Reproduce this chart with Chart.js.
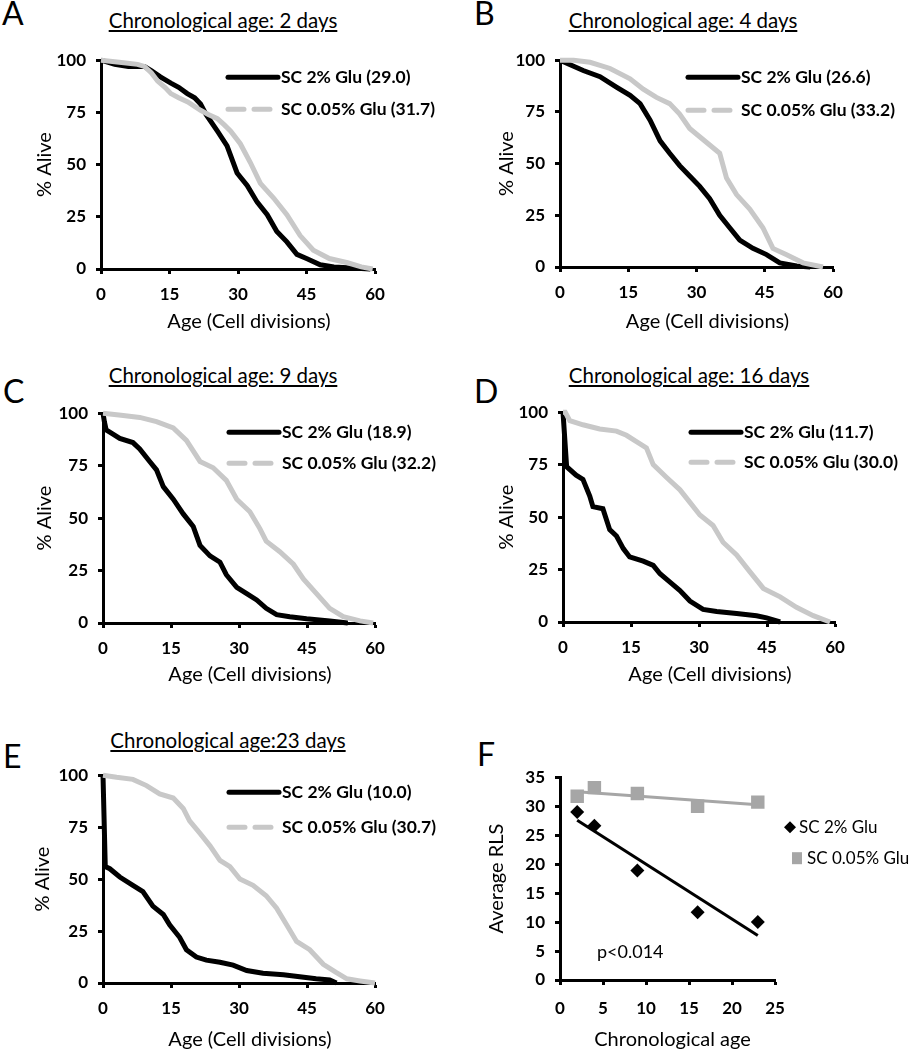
<!DOCTYPE html>
<html>
<head>
<meta charset="utf-8">
<script src="https://cdn.jsdelivr.net/npm/chart.js@4.4.1/dist/chart.umd.min.js"></script>
<style>
  body { margin: 0; background: #fff; }
  #page { position: relative; width: 909px; height: 1050px; overflow: hidden; font-family: Lato, sans-serif; color: #000; }
  canvas { position: absolute; }
  .letter { position: absolute; font-size: 32px; line-height: 32px; }
  .title { position: absolute; font-size: 20.5px; line-height: 24px; text-decoration: underline; white-space: nowrap; transform: translate(-50%, -50%); }
</style>
</head>
<body>
<div id="page">
  <div class="letter" style="left:2px;top:-3px">A</div>
  <div class="letter" style="left:474px;top:-3px">B</div>
  <div class="letter" style="left:3px;top:375px">C</div>
  <div class="letter" style="left:474px;top:375px">D</div>
  <div class="letter" style="left:3px;top:740px">E</div>
  <div class="letter" style="left:477px;top:738px">F</div>

  <div class="title" style="left:223px;top:20px">Chronological age: 2 days</div>
  <div class="title" style="left:683px;top:20px">Chronological age: 4 days</div>
  <div class="title" style="left:223px;top:375px">Chronological age: 9 days</div>
  <div class="title" style="left:689px;top:375px">Chronological age: 16 days</div>
  <div class="title" style="left:228px;top:740px">Chronological age:23 days</div>

  <canvas id="chartA"></canvas>
  <canvas id="chartB"></canvas>
  <canvas id="chartC"></canvas>
  <canvas id="chartD"></canvas>
  <canvas id="chartE"></canvas>
  <canvas id="chartF"></canvas>
</div>
<script>
// Summary data (panel F) - mean replicative lifespan per chronological age
const chronoAge = [2, 4, 9, 16, 23];
const rls2 = [29.0, 26.6, 18.9, 11.7, 10.0];
const rls005 = [31.7, 33.2, 32.2, 30.0, 30.7];

// Survival curves (age in cell divisions, % alive)
const ageA2 = [0, 3, 6, 9.5, 11, 13, 15.3, 17, 18.9, 20.5, 21.8, 23, 25.5, 27.6, 29.8, 32, 34.2, 36.4, 38.5, 40.7, 42.9, 45, 48, 51, 55, 59];
const aliveA2 = [100, 98, 97, 97, 95, 92, 89, 87, 84, 82, 79, 74, 66, 59, 46, 40, 32, 26, 18, 13, 7, 5, 2, 1, 0.5, 0];
const ageA005 = [0, 4, 8, 9.5, 11, 12.4, 14, 15.3, 17, 19, 21.8, 23.5, 25.5, 27, 28.4, 30.5, 32.7, 34.9, 37.8, 40.7, 43.6, 46.5, 50, 54, 57, 59.5];
const aliveA005 = [100, 99, 98, 97, 94, 90, 87, 84, 82, 80, 76, 74, 72, 69, 66, 60, 51, 41, 34, 26, 16, 9, 5, 3, 1, 0];

const ageB2 = [0, 2, 5.1, 8.8, 12.4, 15.4, 17.6, 19.8, 22, 24.1, 26.3, 28.5, 30.7, 32.9, 35.1, 37.3, 39.5, 42.4, 45.4, 48.3, 52, 55];
const aliveB2 = [100, 98, 95, 92, 87, 83, 79, 71, 61, 55, 49, 44, 39, 33, 25, 19, 13, 9, 6, 2, 0.5, 0];
const ageB005 = [0, 3, 6.6, 11, 15.4, 18.3, 21.2, 24.1, 26.3, 28.5, 30.7, 32.9, 35.1, 36.6, 38.8, 41.7, 44.6, 46.8, 49.7, 53.4, 57.8];
const aliveB005 = [100, 100, 99, 96, 91, 86, 82, 79, 74, 67, 63, 59, 55, 43, 35, 28, 19, 9, 6, 2, 0];

const ageC2 = [0, 0.3, 0.7, 2.2, 3.7, 6.6, 8.1, 10.3, 11.8, 13.3, 15.5, 17.7, 19.9, 21.4, 23.6, 25.8, 27.2, 29.5, 31.7, 33.9, 36, 38.3, 41.2, 44.9, 50, 54];
const aliveC2 = [100, 96, 92, 90, 88, 86, 83, 77, 73, 65, 59, 52, 46, 37, 32, 29, 23, 17, 14, 11, 7, 4, 3, 2, 1, 0];
const ageC005 = [0, 4, 8.1, 11.8, 15.5, 18.4, 21.4, 24.3, 27.2, 29.5, 32.4, 34.6, 36, 39, 42, 44.2, 47.1, 50, 53, 56.7, 59.6];
const aliveC005 = [100, 99, 98, 96, 93, 87, 77, 74, 68, 59, 53, 45, 39, 34, 28, 21, 14, 7, 3, 1, 0];

const ageD2 = [0, 0.8, 2.9, 4.4, 5.9, 6.6, 8.8, 10.3, 11.8, 13.3, 14.7, 17.7, 19.9, 21.4, 23.6, 25.8, 28, 30.9, 33.9, 38.3, 42.7, 44.9, 47.9];
const aliveD2 = [100, 74, 70, 68, 60, 55, 54, 44, 41, 35, 31, 29, 27, 23, 19, 15, 10, 6, 5, 4, 3, 2, 0];
const ageD005 = [0, 0.5, 1.5, 4.4, 8.1, 11.8, 14, 16.2, 18.4, 19.9, 22.8, 25.8, 28, 30.2, 33.1, 35.3, 38.3, 41.2, 44.2, 47.9, 51.5, 55.2, 58.9];
const aliveD005 = [100, 100, 96, 94, 92, 91, 89, 86, 83, 75, 69, 63, 57, 51, 46, 38, 32, 24, 16, 12, 7, 3, 0];

const ageE2 = [0, 0.5, 1.5, 3.7, 6.6, 8.8, 11, 13.3, 14.7, 16.9, 18.4, 20.6, 22.8, 25.8, 28.7, 31.7, 35.3, 39.8, 43.4, 47, 50, 51.5];
const aliveE2 = [100, 56, 55, 51, 47, 44, 37, 33, 28, 22, 16, 12.5, 11, 10, 8.6, 6, 4.7, 4, 3, 2, 1.5, 0];
const ageE005 = [0, 3, 6.6, 9.6, 12.5, 15.5, 17.7, 19.1, 21.4, 23.6, 25.8, 28, 30.2, 33.1, 36, 38.3, 40.5, 42.7, 45.6, 48.6, 51.5, 53.8, 56.7, 60];
const aliveE005 = [100, 99, 98, 95, 91, 89, 84, 78, 72, 66, 59, 56, 50, 47, 42, 36, 28, 20, 16, 9, 5, 2, 1, 0];

Chart.defaults.font.family = 'Lato, sans-serif';
Chart.defaults.color = '#000';

const BLACK = '#000000';
const LIGHT = '#c8c8c8';
const MID = '#a6a6a6';
const TITLE_SIZE = 20;
const TITLE_HALF = TITLE_SIZE * 1.2 / 2;

// draws the in-panel legends, the p value note and the x axis title
const panelLegend = {
  id: 'panelLegend',
  afterDatasetsDraw(chart, args, opts) {
    if (!opts.dx) return;
    const { ctx, chartArea } = chart;
    const items = chart.data.datasets.filter(d => d.label);
    ctx.save();
    ctx.textBaseline = 'middle';
    items.forEach((d, i) => {
      const x = chartArea.left + opts.dx;
      const y = chartArea.top + opts.dy + i * opts.rowGap;
      if (opts.mode === 'point') {
        ctx.fillStyle = d.backgroundColor;
        ctx.beginPath();
        if (d.pointStyle === 'rectRot') {
          ctx.moveTo(x, y - 6); ctx.lineTo(x + 6, y); ctx.lineTo(x, y + 6); ctx.lineTo(x - 6, y);
        } else {
          ctx.rect(x + 2, y - 6, 10, 12);
        }
        ctx.fill();
        ctx.fillStyle = '#000';
        ctx.font = '17px Lato';
        ctx.fillText(d.label, x + (d.pointStyle === 'rectRot' ? 9 : 17), y);
      } else {
        ctx.strokeStyle = d.borderColor;
        ctx.lineWidth = 5;
        ctx.lineCap = 'round';
        ctx.setLineDash(d.legendDash || []);
        ctx.beginPath();
        ctx.moveTo(x, y);
        ctx.lineTo(x + 50, y);
        ctx.stroke();
        ctx.setLineDash([]);
        ctx.fillStyle = '#000';
        ctx.font = 'bold 17.5px Lato';
        ctx.fillText(d.label, x + 53, y);
      }
    });
    if (opts.note) {
      ctx.font = '18px Lato';
      ctx.fillStyle = '#000';
      ctx.fillText(opts.note.text, chartArea.left + opts.note.dx, chartArea.top + opts.note.dy);
    }
    if (opts.xTitle) {
      ctx.font = TITLE_SIZE + 'px Lato';
      ctx.fillStyle = '#000';
      ctx.textAlign = 'center';
      const cx = (chartArea.left + chartArea.right) / 2 + opts.xTitle.shift;
      ctx.fillText(opts.xTitle.text, cx, chart.height - TITLE_HALF);
    }
    ctx.restore();
  }
};

function placeCanvas(cv, left, top, width, height) {
  cv.width = width;
  cv.height = height;
  cv.style.left = left + 'px';
  cv.style.top = top + 'px';
  cv.style.width = width + 'px';
  cv.style.height = height + 'px';
}

function axisStyle(min, max, step, titleText, pad) {
  return {
    type: 'linear', min: min, max: max,
    ticks: { stepSize: step, font: { size: 17, weight: 'bold' }, padding: pad, maxRotation: 0 },
    grid: { display: true, drawOnChartArea: false, drawTicks: true, tickLength: 5, tickWidth: 3, tickColor: '#000' },
    border: { display: true, width: 3, color: '#000' },
    title: { display: !!titleText, text: titleText, font: { size: TITLE_SIZE }, padding: 0 }
  };
}

// box: plot area (L,T,R,B) in page pixels + axis title centres
function survivalPanel(id, box, ages2, alive2, ages005, alive005, rlsIdx, legend) {
  const cv = document.getElementById(id);
  const left = Math.round(box.yTitleX - TITLE_HALF), top = box.T - 15;
  const right = Math.min(909, box.R + 80), bottom = Math.round(box.xTitleY + TITLE_HALF);
  placeCanvas(cv, left, top, right - left, bottom - top);

  const x = axisStyle(0, 60, 15, '', 10);
  x.afterFit = s => { s.height = bottom - box.B; };
  const y = axisStyle(0, 100, 25, '% Alive', 10);
  y.afterFit = s => { s.width = box.L - left; };

  new Chart(cv, {
    type: 'line',
    data: {
      datasets: [
        {
          label: 'SC 2% Glu (' + rls2[rlsIdx].toFixed(1) + ')',
          data: ages2.map((a, i) => ({ x: a, y: alive2[i] })),
          borderColor: BLACK, borderWidth: 5, pointRadius: 0, order: 2, clip: 6
        },
        {
          label: 'SC 0.05% Glu (' + rls005[rlsIdx].toFixed(1) + ')',
          data: ages005.map((a, i) => ({ x: a, y: alive005[i] })),
          borderColor: LIGHT, borderWidth: 5, pointRadius: 0, order: 1, clip: 6,
          legendDash: [16, 10]
        }
      ]
    },
    options: {
      responsive: false,
      animation: false,
      layout: { padding: { top: 15, right: right - box.R, left: 0, bottom: 0 } },
      plugins: {
        legend: { display: false },
        tooltip: { enabled: false },
        panelLegend: {
          dx: legend.dx, dy: legend.dy, rowGap: legend.rowGap, mode: 'line',
          xTitle: { text: 'Age (Cell divisions)', shift: 11 }
        }
      },
      scales: { x: x, y: y }
    },
    plugins: [panelLegend]
  });
}

survivalPanel('chartA', { L: 101, T: 55, R: 375, B: 269, yTitleX: 45, xTitleY: 322 },
  ageA2, aliveA2, ageA005, aliveA005, 0, { dx: 127, dy: 17, rowGap: 32 });
survivalPanel('chartB', { L: 560, T: 55, R: 833, B: 267, yTitleX: 507, xTitleY: 322 },
  ageB2, aliveB2, ageB005, aliveB005, 1, { dx: 128, dy: 17, rowGap: 33 });
survivalPanel('chartC', { L: 103, T: 408, R: 375, B: 623, yTitleX: 45, xTitleY: 675 },
  ageC2, aliveC2, ageC005, aliveC005, 2, { dx: 126, dy: 19, rowGap: 31 });
survivalPanel('chartD', { L: 563, T: 407, R: 835, B: 622, yTitleX: 507, xTitleY: 675 },
  ageD2, aliveD2, ageD005, aliveD005, 3, { dx: 128, dy: 20, rowGap: 30 });
survivalPanel('chartE', { L: 103, T: 770, R: 375, B: 983, yTitleX: 43, xTitleY: 1040 },
  ageE2, aliveE2, ageE005, aliveE005, 4, { dx: 126, dy: 17, rowGap: 35 });

// Panel F: average RLS vs chronological age with linear trend lines
function linearFit(xs, ys) {
  const n = xs.length;
  const mx = xs.reduce((a, b) => a + b, 0) / n;
  const my = ys.reduce((a, b) => a + b, 0) / n;
  let sxy = 0, sxx = 0;
  xs.forEach((v, i) => { sxy += (v - mx) * (ys[i] - my); sxx += (v - mx) * (v - mx); });
  const slope = sxy / sxx;
  return v => my + slope * (v - mx);
}

(function () {
  const box = { L: 560, T: 772, R: 775, B: 980, yTitleX: 497, xTitleY: 1040 };
  const cv = document.getElementById('chartF');
  const left = Math.round(box.yTitleX - TITLE_HALF), top = box.T - 15;
  const right = 909, bottom = Math.round(box.xTitleY + TITLE_HALF);
  placeCanvas(cv, left, top, right - left, bottom - top);

  const x = axisStyle(0, 25, 5, '', 13);
  x.afterFit = s => { s.height = bottom - box.B; };
  const y = axisStyle(0, 35, 5, 'Average RLS', 10);
  y.afterFit = s => { s.width = box.L - left; };

  const fit2 = linearFit(chronoAge, rls2);
  const fit005 = linearFit(chronoAge, rls005);
  const x0 = chronoAge[0], x1 = chronoAge[chronoAge.length - 1];

  new Chart(cv, {
    type: 'scatter',
    data: {
      datasets: [
        {
          label: 'SC 2% Glu',
          data: chronoAge.map((a, i) => ({ x: a, y: rls2[i] })),
          pointStyle: 'rectRot', pointRadius: 7, backgroundColor: BLACK, borderWidth: 0, order: 0
        },
        {
          label: 'SC 0.05% Glu',
          data: chronoAge.map((a, i) => ({ x: a, y: rls005[i] })),
          pointStyle: 'rect', pointRadius: 9.5, backgroundColor: MID, borderWidth: 0, order: 0
        },
        {
          type: 'line',
          data: [{ x: x0, y: fit2(x0) }, { x: x1, y: fit2(x1) }],
          borderColor: BLACK, borderWidth: 3, pointRadius: 0, order: 1
        },
        {
          type: 'line',
          data: [{ x: x0, y: fit005(x0) }, { x: x1, y: fit005(x1) }],
          borderColor: MID, borderWidth: 3, pointRadius: 0, order: 1
        }
      ]
    },
    options: {
      responsive: false,
      animation: false,
      layout: { padding: { top: 15, right: right - box.R, left: 0, bottom: 0 } },
      plugins: {
        legend: { display: false },
        tooltip: { enabled: false },
        panelLegend: {
          dx: 230, dy: 50, rowGap: 31, mode: 'point',
          note: { text: 'p<0.014', dx: 37, dy: 175 },
          xTitle: { text: 'Chronological age', shift: 5 }
        }
      },
      scales: { x: x, y: y }
    },
    plugins: [panelLegend]
  });
})();
</script>
</body>
</html>
